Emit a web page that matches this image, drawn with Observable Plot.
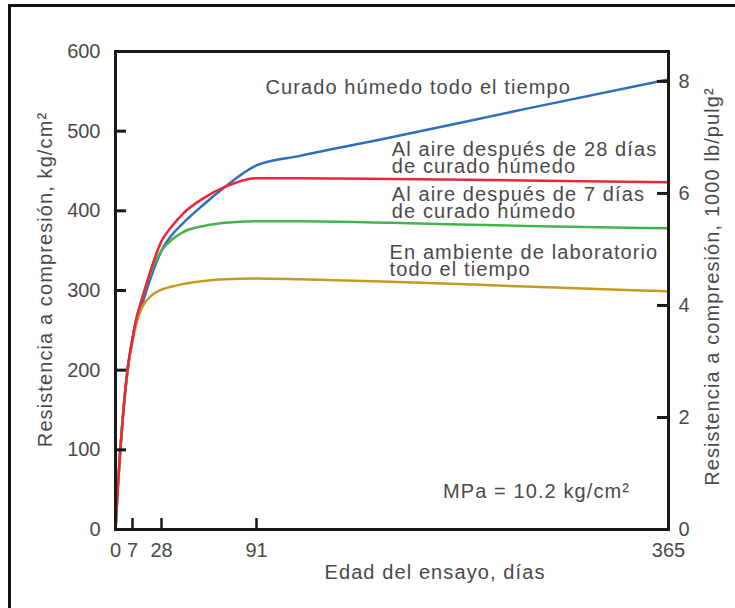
<!DOCTYPE html>
<html>
<head>
<meta charset="utf-8">
<script src="https://cdn.jsdelivr.net/npm/d3@7"></script>
<script src="https://cdn.jsdelivr.net/npm/@observablehq/plot@0.6"></script>
<style>
  body { margin: 0; background: #fff; }
  #wrap { position: relative; width: 735px; height: 608px; overflow: hidden; }
  #border { position: absolute; left: 8px; top: 4px; width: 800px; height: 700px;
            border-left: 3px solid #111; border-top: 3px solid #111; pointer-events: none; }
</style>
</head>
<body>
<div id="wrap"><div id="chart"></div><div id="border"></div></div>
<script>
// ---- data ----
const days      = [0, 1, 3, 5, 7, 10, 14, 21, 28, 35, 42, 56, 70, 91, 120, 180, 270, 365];
const moistAll  = [0, 55, 140, 200, 238, 262, 283, 320, 350, 370, 384, 408, 430, 457, 469, 492, 528, 565];
const air28     = [0, 55, 140, 202, 240, 266, 290, 330, 362, 381, 396, 416, 430, 441, 441, 440, 438, 436];
const air7      = [0, 55, 140, 202, 240, 266, 290, 326, 350, 364, 373, 381, 385, 387, 387, 385, 381, 378];
const labAir    = [0, 55, 140, 200, 236, 260, 279, 294, 301, 305, 308, 312, 314, 315, 314, 311, 305, 299];

const seriesNames  = ["moist", "air7", "lab", "air28"];
const seriesValues = [moistAll, air7, labAir, air28];
const seriesColors = ["#2f6dbd", "#45b34a", "#c59a22", "#ea2638"];

const xTicks      = [0, 7, 28, 91, 365];
const leftTicks   = [0, 100, 200, 300, 400, 500, 600];
const rightTicks  = [0, 2, 4, 6, 8];           // 1000 lb/pulg²
const kgPerKsi    = 70.307;                     // kg/cm² per 1000 lb/pulg²

const annText = ["Curado húmedo todo el tiempo",
                 "Al aire después de 28 días\nde curado húmedo",
                 "Al aire después de 7 días\nde curado húmedo",
                 "En ambiente de laboratorio\ntodo el tiempo",
                 "MPa = 10.2 kg/cm²"];
const annX = [97, 181, 181, 179.5, 215];
const annY = [553, 465, 408.5, 335.5, 46];

const xTitle = "Edad del ensayo, días";
const yTitleLeft = "Resistencia a compresión, kg/cm²";
const yTitleRight = "Resistencia a compresión, 1000 lb/pulg²";

// ---- table ----
const rows = [];
seriesNames.forEach((s, k) => days.forEach((d, i) => rows.push({series: s, day: d, value: seriesValues[k][i]})));

const W = 735, H = 608, mL = 115, mR = 67, mT = 51, mB = 79;
const pw = W - mL - mR, ph = H - mT - mB;
const ink = "#1a1a1a", txt = "#4a4a4a";

const chart = Plot.plot({
  width: W, height: H,
  marginLeft: mL, marginRight: mR, marginTop: mT, marginBottom: mB,
  style: {fontFamily: "'Liberation Sans', Arial, sans-serif", fontSize: "20px", background: "#fff"},
  x: {type: "linear", domain: xTicks, range: [115, 132, 161, 256, 668]},
  y: {domain: [0, 600]},
  color: {domain: seriesNames, range: seriesColors},
  marks: [
    Plot.line(rows, {x: "day", y: "value", z: "series", stroke: "series", strokeWidth: 2.5, curve: "monotone-x"}),
    Plot.frame({stroke: ink, strokeWidth: 3}),
    Plot.tickY(leftTicks.slice(1, -1), {y: d => d, insetRight: pw - 11, stroke: ink, strokeWidth: 3}),
    Plot.tickY(rightTicks.slice(1).map(k => k * kgPerKsi), {y: d => d, insetLeft: pw - 11, stroke: ink, strokeWidth: 3}),
    Plot.tickX(xTicks.slice(1, -1), {x: d => d, insetTop: ph - 11, stroke: ink, strokeWidth: 2.5}),
    Plot.axisY(leftTicks, {anchor: "left", tickSize: 0, tickPadding: 15, fontSize: 20, fill: txt, label: null}),
    Plot.axisY(rightTicks.map(k => k * kgPerKsi), {anchor: "right", tickSize: 0, tickPadding: 10, fontSize: 20, fill: txt, label: null,
      tickFormat: d => String(Math.round(d / kgPerKsi))}),
    Plot.axisX(xTicks, {anchor: "bottom", tickSize: 0, tickPadding: 13, fontSize: 20, fill: txt, label: null, tickFormat: d => String(d)}),
    Plot.text(annText, {x: (d, i) => annX[i], y: (d, i) => annY[i], text: d => d, textAnchor: "start",
      lineAnchor: "middle", lineHeight: 0.85, fontSize: 20, fill: txt}),
    Plot.text([xTitle], {frameAnchor: "bottom", textAnchor: "middle", lineAnchor: "middle", dx: 43, dy: 43, fontSize: 20, fill: txt}),
    Plot.text([yTitleLeft], {frameAnchor: "left", textAnchor: "middle", lineAnchor: "middle", rotate: -90, dx: -70, dy: -11, fontSize: 20, fill: txt}),
    Plot.text([yTitleRight], {frameAnchor: "right", textAnchor: "middle", lineAnchor: "middle", rotate: -90, dx: 44, dy: -4, fontSize: 20, fill: txt})
  ]
});
d3.select(chart).selectAll('g[aria-label="text"] text').attr("letter-spacing", "1.1px");
document.getElementById("chart").appendChild(chart);
</script>
</body>
</html>
